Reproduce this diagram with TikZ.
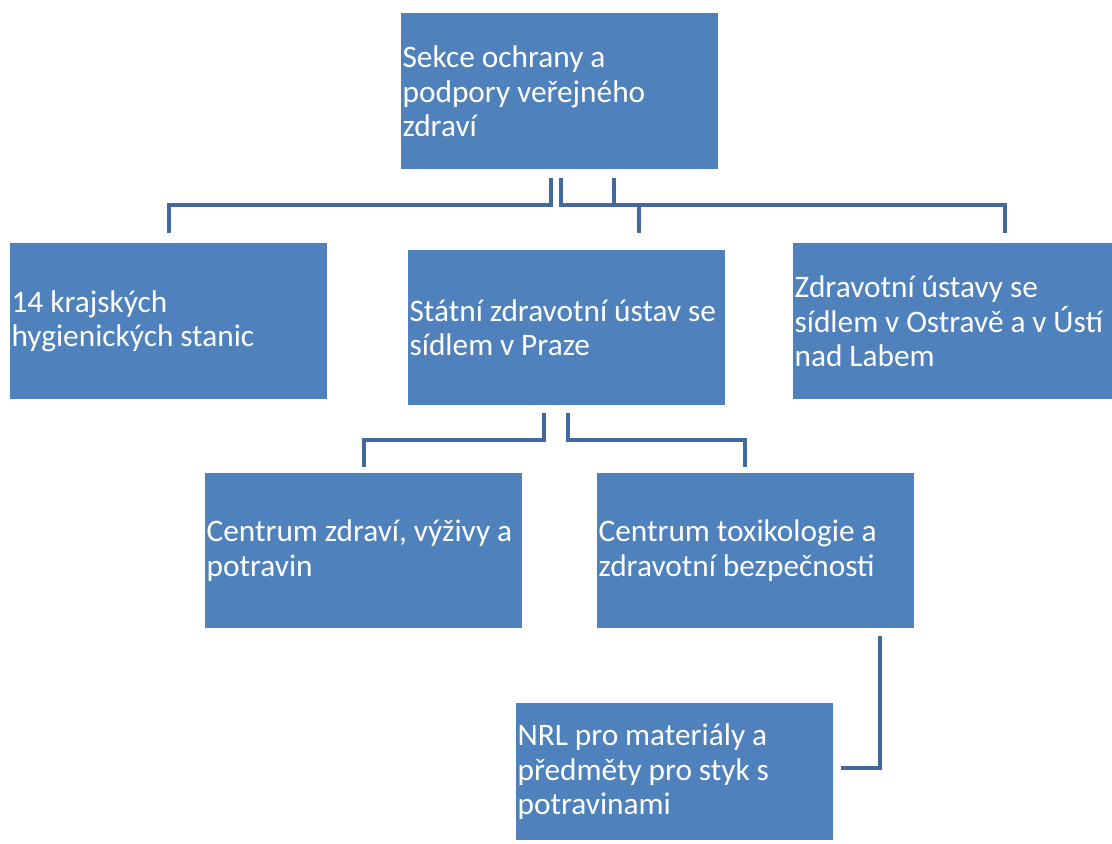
\documentclass[tikz,border=0pt]{standalone}
\usepackage{fontspec}
\setmainfont{Carlito}
\usetikzlibrary{calc}
\definecolor{boxblue}{HTML}{4F81BD}
\definecolor{linkblue}{HTML}{41699C}
\newcommand{\boxfont}{\fontsize{23.5}{26}\selectfont}
\tikzset{
    box/.style={fill=boxblue, text=white, anchor=north west, inner xsep=1pt, inner ysep=0pt,
        minimum width=237.75pt, minimum height=117pt, text width=235.75pt, align=left,
        font=\boxfont, execute at begin node={\spaceskip=0.22em\relax}},
    link/.style={draw=linkblue, line width=3pt}
}

\begin{document}
\begin{tikzpicture}[x=0.75pt, y=-0.75pt]
    \useasboundingbox (0,0) rectangle (1112,843);

    \node[box] (top) at (401,13) {Sekce ochrany a\\podpory veřejného\\zdraví};
    \node[box] (hyg) at (10,243) {14 krajských\\hygienických stanic};
    \node[box, minimum height=116.25pt] (szu) at (408,250) {Státní zdravotní ústav se\\sídlem v Praze};
    \node[box, minimum width=239.25pt, text width=237.25pt] (zdu) at (793,243) {Zdravotní ústavy se\\sídlem v Ostravě a v Ústí\\nad Labem};
    \node[box, minimum height=116.25pt] (czvp) at (205,473) {Centrum zdraví, výživy a\\potravin};
    \node[box, minimum height=116.25pt] (ctzb) at (597,473) {Centrum toxikologie a\\zdravotní bezpečnosti};
    \node[box, minimum height=102.75pt] (nrl) at (516,703) {NRL pro materiály a\\předměty pro styk s\\potravinami};

    \draw[link] ($(top.south)+(-9,8)$) |- ($(hyg.north)+(0,-38)$) -- ($(hyg.north)+(0,-10)$);
    \draw[link] ($(top.south)+(1,8)$) |- ($(szu.north)+(72,-45)$) -- ($(szu.north)+(72,-17)$);
    \draw[link] ($(top.south)+(54,8)$) |- ($(zdu.north)+(52,-38)$) -- ($(zdu.north)+(52,-10)$);

    \draw[link] ($(szu.south)+(-23,7)$) |- ($(czvp.north)+(0,-33)$) -- ($(czvp.north)+(0,-6)$);
    \draw[link] ($(szu.south)+(1,7)$) |- ($(ctzb.north)+(-11,-33)$) -- ($(ctzb.north)+(-11,-6)$);

    \draw[link] ($(ctzb.south)+(124,7)$) |- ($(nrl.east)+(7,-4)$);
\end{tikzpicture}
\end{document}
